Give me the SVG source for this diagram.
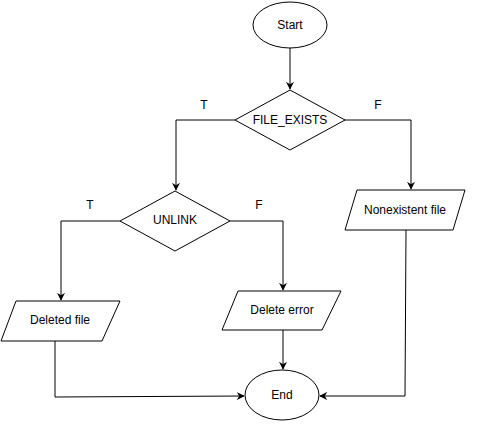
<svg xmlns="http://www.w3.org/2000/svg" width="477" height="432" viewBox="0 0 477 432">
  <defs>
    <marker id="arrow" viewBox="0 0 10 10" refX="9" refY="5" markerWidth="8" markerHeight="8" markerUnits="userSpaceOnUse" orient="auto">
      <path d="M0,0 L10,5 L0,10 L3,5 Z" fill="#000"/>
    </marker>
    <style>
      .shape { fill: #fff; stroke: #000; stroke-width: 1; }
      .edge { fill: none; stroke: #000; stroke-width: 1; marker-end: url(#arrow); }
      .label { font-family: "Liberation Sans", Arial, sans-serif; font-size: 12px; fill: #000; text-anchor: middle; dominant-baseline: central; }
    </style>
  </defs>
  <rect width="477" height="432" fill="#fff"/>

  <g id="connectors">
    <path class="edge" d="M290,48 L290,89"/>
    <path class="edge" d="M235,120 L176,120 L176,190"/>
    <path class="edge" d="M344,120 L411,120 L411,189"/>
    <path class="edge" d="M120,221 L61,221 L61,300"/>
    <path class="edge" d="M230,221 L283,221 L283,290"/>
    <path class="edge" d="M283,330 L283,369"/>
    <path class="edge" d="M55,341 L55,397 L244,396"/>
    <path class="edge" d="M406,230 L405,396 L320,396"/>
  </g>

  <g id="edge-labels">
    <text class="label" x="204" y="105">T</text>
    <text class="label" x="378" y="105">F</text>
    <text class="label" x="90" y="205">T</text>
    <text class="label" x="259" y="205">F</text>
  </g>

  <g id="start">
    <ellipse class="shape" cx="290" cy="25" rx="37" ry="23"/>
    <text class="label" x="290" y="25">Start</text>
  </g>

  <g id="file-exists">
    <polygon class="shape" points="290,90 345,120 290,150 235,120"/>
    <text class="label" x="290" y="120">FILE_EXISTS</text>
  </g>

  <g id="unlink">
    <polygon class="shape" points="175,191 230,221 175,251 120,221"/>
    <text class="label" x="175" y="220">UNLINK</text>
  </g>

  <g id="nonexistent-file">
    <polygon class="shape" points="357,190 465,190 453,230 345,230"/>
    <text class="label" x="405" y="210">Nonexistent file</text>
  </g>

  <g id="deleted-file">
    <polygon class="shape" points="16,301 120,301 102,341 1,341"/>
    <text class="label" x="60" y="320">Deleted file</text>
  </g>

  <g id="delete-error">
    <polygon class="shape" points="238,291 341,291 322,330 222,330"/>
    <text class="label" x="282" y="310">Delete error</text>
  </g>

  <g id="end">
    <ellipse class="shape" cx="282" cy="395" rx="37" ry="25"/>
    <text class="label" x="282" y="395">End</text>
  </g>
</svg>
